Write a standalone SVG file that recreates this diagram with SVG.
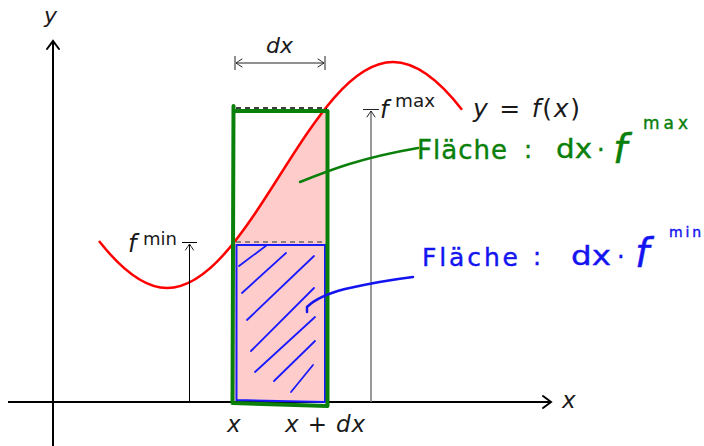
<svg xmlns="http://www.w3.org/2000/svg" width="704" height="446" viewBox="0 0 704 446">
<style>
.ax{stroke:#000;stroke-width:2;fill:none}
.m{font-family:"DejaVu Sans",sans-serif;font-style:oblique;fill:#1a1a1a}
.u{font-family:"DejaVu Sans",sans-serif;fill:#1a1a1a}
.hg{font-family:"DejaVu Sans",sans-serif;fill:#0a800a;stroke:#0a800a;stroke-width:0.4}
.hb{font-family:"DejaVu Sans",sans-serif;fill:#1414f0;stroke:#1414f0;stroke-width:0.4}
.hatch{stroke:#1a1aff;stroke-width:1.8;stroke-linecap:round;fill:none}
</style>
<defs>
<marker id="ah" viewBox="-10 -8 12 16" refX="0" refY="0" markerWidth="12" markerHeight="16" markerUnits="userSpaceOnUse" orient="auto">
<path d="M-8,-6 Q-2,-1.5 0,0 Q-2,1.5 -8,6" fill="none" stroke="#000" stroke-width="2" stroke-linecap="round"/>
</marker>
<marker id="ahs" viewBox="-10 -8 12 16" refX="0" refY="0" markerWidth="12" markerHeight="16" markerUnits="userSpaceOnUse" orient="auto-start-reverse">
<path d="M-6,-4 Q-1.5,-1 0,0 Q-1.5,1 -6,4" fill="none" stroke="#222" stroke-width="1" stroke-linecap="round"/>
</marker>
</defs>
<rect width="704" height="446" fill="#fff"/>

<g id="fill-area">
<path d="M234,402 L234,242.5 C265,203.4 296,145 327,106.3 L327,402 Z" fill="#ffcccc"/>
</g>

<g id="axes">
<line class="ax" x1="8" y1="402" x2="551" y2="402" marker-end="url(#ah)"/>
<line class="ax" x1="53" y1="446" x2="53" y2="41" marker-end="url(#ah)"/>
<text class="m" x="44" y="23" font-size="22">y</text>
<text class="m" x="562" y="408" font-size="23">x</text>
</g>

<g id="curve">
<path d="M99,241 C121.7,269.8 144.3,288 167,288 C249.3,288 310.7,62 393,62 C416,62 439,80.1 462,109.7" fill="none" stroke="#ff0000" stroke-width="2.5"/>
<text class="m" x="473" y="117" font-size="25" textLength="107" lengthAdjust="spacing">y <tspan font-style="normal">=</tspan> f<tspan font-style="normal">(</tspan>x<tspan font-style="normal">)</tspan></text>
</g>

<g id="dashes">
<line x1="236" y1="108" x2="326" y2="108" stroke="#000" stroke-width="1.3" stroke-dasharray="5,4"/>
<line x1="326.5" y1="108" x2="326.5" y2="127" stroke="#000" stroke-width="1"/>
<line x1="236" y1="242" x2="327" y2="242" stroke="#666" stroke-width="1.3" stroke-dasharray="5,4"/>
</g>

<g id="rect-min">
<path d="M236.5,245 L325,245 L325,402 L236.5,400 Z" fill="none" stroke="#1a1aff" stroke-width="2"/>
<g id="hatching">
<line class="hatch" x1="239" y1="266" x2="267" y2="245"/>
<line class="hatch" x1="242" y1="293" x2="286" y2="253"/>
<line class="hatch" x1="247" y1="320" x2="314" y2="256"/>
<line class="hatch" x1="251" y1="351" x2="314" y2="288"/>
<line class="hatch" x1="255" y1="372" x2="315" y2="317"/>
<line class="hatch" x1="274" y1="381" x2="315" y2="341"/>
<line class="hatch" x1="291" y1="392" x2="313" y2="365"/>
</g>
</g>

<g id="rect-max">
<path d="M233.5,106 L232.5,403 L327.5,406 L327.5,111 L233.5,111" fill="none" stroke="#0a800a" stroke-width="4" stroke-linejoin="round" stroke-linecap="round"/>
</g>

<g id="connectors">
<g id="dx-dim">
<line x1="235" y1="56" x2="235" y2="70" stroke="#222" stroke-width="1"/>
<line x1="325" y1="56" x2="325" y2="70" stroke="#222" stroke-width="1"/>
<line x1="236" y1="63" x2="324" y2="63" stroke="#222" stroke-width="1" marker-start="url(#ahs)" marker-end="url(#ahs)"/>
</g>
<g id="fmax-arrow">
<line x1="371" y1="402" x2="371" y2="111" stroke="#777" stroke-width="1.5" marker-end="url(#ahs)"/>
<line x1="363" y1="109.5" x2="379" y2="109.5" stroke="#222" stroke-width="1"/>
</g>
<g id="fmin-arrow">
<line x1="189.5" y1="402" x2="189.5" y2="244" stroke="#000" stroke-width="1" marker-end="url(#ahs)"/>
<line x1="182" y1="242.5" x2="197" y2="242.5" stroke="#000" stroke-width="1"/>
</g>
<path id="green-pointer" d="M300,182 C330,170 360,158 418,148" fill="none" stroke="#0a800a" stroke-width="2.5" stroke-linecap="round"/>
<path id="blue-pointer" d="M307,312 L307,307 Q318,296 345,289 Q380,281 413,277" fill="none" stroke="#1414f0" stroke-width="2.5" stroke-linecap="round"/>
</g>

<g id="labels">
<text class="m" x="266" y="53" font-size="22">dx</text>
<text class="m" x="380" y="118" font-size="24">f</text>
<text class="u" x="395" y="107" font-size="17" textLength="40" lengthAdjust="spacingAndGlyphs">max</text>
<text class="m" x="128" y="252" font-size="24">f</text>
<text class="u" x="143" y="245" font-size="17" textLength="34" lengthAdjust="spacingAndGlyphs">min</text>
<text class="m" x="227" y="432" font-size="23">x</text>
<text class="m" x="285" y="432" font-size="23" textLength="80" lengthAdjust="spacing">x <tspan font-style="normal">+</tspan> dx</text>
</g>

<g id="note-max">
<text class="hg" x="417" y="159" font-size="26" textLength="90" lengthAdjust="spacing">Fläche</text>
<text class="hg" x="524" y="158" font-size="24">:</text>
<text class="hg" x="556" y="158" font-size="27" textLength="36" lengthAdjust="spacingAndGlyphs">dx</text>
<text class="hg" x="597" y="158" font-size="24">·</text>
<text class="hg" x="613" y="163" font-size="40" font-style="italic">f</text>
<text class="hg" x="643" y="129" font-size="17" textLength="45" lengthAdjust="spacing">max</text>
</g>

<g id="note-min">
<text class="hb" x="422" y="266" font-size="25" textLength="96" lengthAdjust="spacing">Fläche</text>
<text class="hb" x="533" y="265" font-size="24">:</text>
<text class="hb" x="571" y="265" font-size="27" textLength="40" lengthAdjust="spacingAndGlyphs">dx</text>
<text class="hb" x="617" y="265" font-size="24">·</text>
<text class="hb" x="635" y="267" font-size="40" font-style="italic">f</text>
<text class="hb" x="669" y="237" font-size="14" textLength="32" lengthAdjust="spacing">min</text>
</g>
</svg>
